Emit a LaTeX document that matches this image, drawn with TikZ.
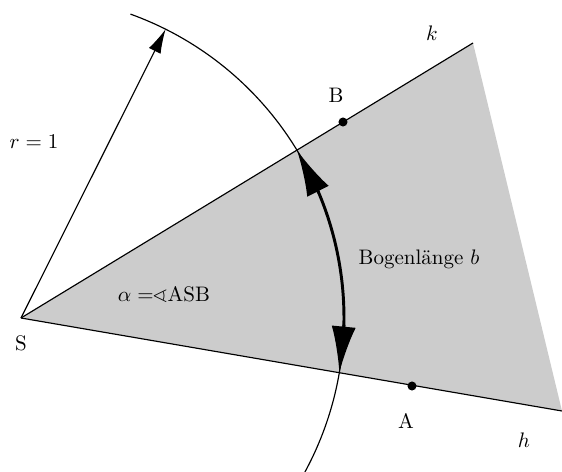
\documentclass[tikz,border=0pt]{standalone}
\usepackage{amssymb}
\usetikzlibrary{arrows.meta,calc}
\begin{document}
\begin{tikzpicture}[x=0.476pt,y=0.476pt,
  thinline/.style={line width=0.55pt},
  thickarc/.style={line width=1.4pt},
  bigtip/.style={line width=1.4pt,-{Latex[length=22pt,width=11.5pt]}},
  radarrow/.style={line width=0.55pt,-{Latex[length=11.5pt,width=6.2pt]}},
  dot/.style={circle,fill=black,inner sep=0pt,minimum size=4.3pt},
  lbl/.style={inner sep=0pt,font=\normalsize}]
\useasboundingbox (0,0) rectangle (562,472);
\clip (0,0) rectangle (562,472);
\coordinate (S) at (21,154);
\coordinate (K) at (473,429);
\coordinate (H) at (562,61);
\coordinate (R) at ($(S)+(63.4:323)$);
\coordinate (T1) at ($(S)+(31.32:323)$);
\coordinate (B1) at ($(S)+(22.8:323)$);
\coordinate (T2) at ($(S)+(-9.75:323)$);
\coordinate (B2) at ($(S)+(-1.2:323)$);
\fill[gray!40] (S) -- (K) -- (H) -- cycle;
\draw[thinline] (S) -- (K);
\draw[thinline] (S) -- (H);
\draw[thinline] (S) ++(70.2:323) arc[start angle=70.2, end angle=-32, radius=323];
\draw[thickarc] (S) ++(24:323) arc[start angle=24, end angle=-2.4, radius=323];
\draw[bigtip] (B1) -- (T1);
\draw[bigtip] (B2) -- (T2);
\draw[radarrow] (S) -- (R);
\node[dot] (B) at (343,350) {};
\node[dot] (A) at (412,86) {};
\node[lbl] (lr) at (34,330) {$r=1$};
\node[lbl] (lk) at (432,439) {$k$};
\node[lbl] (lB) at (336,377) {B};
\node[lbl] (lA) at (406,51) {A};
\node[lbl] (lh) at (524,32) {$h$};
\node[lbl] (lS) at (21,129) {S};
\node[lbl] (lalpha) at (164,178) {$\alpha =\!\!\sphericalangle$ASB};
\node[lbl] (lb) at (419,213) {Bogenlänge $b$};
\end{tikzpicture}
\end{document}
